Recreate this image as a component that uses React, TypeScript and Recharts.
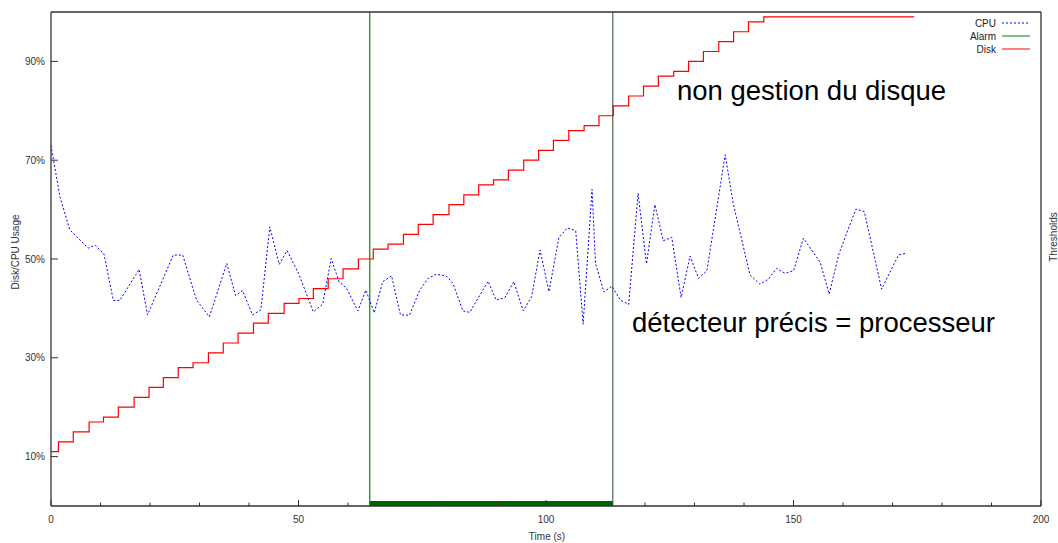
import { LineChart, Line, XAxis, YAxis, ReferenceLine, ReferenceArea } from 'recharts'

// Time (s) of every CPU sample and the CPU usage (%) read at it
const CPU_T = [
  0, 1.8, 3.8, 5.2, 7.5, 8.9, 10.7, 12.6, 13.9, 17.8, 19.5, 24.7, 26.6, 29.4, 32.0, 35.5,
  37.3, 38.7, 40.7, 42.4, 44.2, 46.1, 47.7, 50.0, 53.0, 54.9, 56.6, 58.2, 59.7, 62.0, 63.6,
  65.3, 67.0, 68.8, 70.6, 72.4, 74.5, 76.2, 77.8, 79.8, 81.2, 83.2, 84.6, 88.3, 89.9, 91.7,
  93.5, 95.4, 97.1, 98.8, 100.6, 102.6, 104.3, 106.0, 107.5, 109.3, 110.0, 111.7, 113.3,
  115.0, 116.7, 118.6, 120.3, 122.0, 123.7, 125.4, 127.3, 129.1, 130.8, 132.5, 136.2, 137.8,
  141.2, 143.2, 144.9, 146.6, 148.3, 150.0, 152.0, 155.4, 157.2, 159.2, 162.6, 164.3, 167.8,
  171.2, 172.9,
]
const CPU_USAGE = [
  73, 62.6, 55.9, 54.5, 52.2, 52.8, 51.0, 41.6, 41.6, 47.9, 38.7, 50.8, 50.8, 41.7, 38.3, 49.1,
  42.6, 43.6, 38.7, 39.7, 56.5, 48.9, 51.7, 47.1, 39.3, 40.9, 50.1, 45.4, 44.1, 39.5, 43.7,
  39.1, 45.4, 46.6, 38.7, 38.6, 43.7, 46.1, 46.9, 46.6, 45.1, 39.5, 39.2, 45.5, 41.7, 42.2,
  45.4, 39.5, 42.4, 51.8, 43.4, 54.3, 56.3, 55.7, 36.8, 64.1, 49.1, 43.3, 44.5,
  41.7, 40.8, 63.3, 49.0, 61.0, 53.7, 54.4, 42.2, 50.6, 46.1, 47.6, 71.1, 61.3,
  46.8, 44.9, 45.9, 48.1, 47.1, 47.6, 54.2, 49.3, 42.9, 51.1, 60.1, 59.6, 43.9,
  50.8, 51.2,
]

// Disk usage (%) steps: value holds from DISK_T[i] until the next step
const DISK_T = [
  0, 1.5, 4.5, 7.7, 10.6, 13.6, 16.8, 19.8, 22.7, 25.7, 28.7, 31.8, 34.8, 37.8, 40.9, 43.9,
  47.1, 50.1, 53.0, 56.0, 59.0, 62.1, 65.1, 68.1, 71.2, 74.2, 77.2, 80.4, 83.4, 86.4, 89.4,
  92.4, 95.5, 98.5, 101.5, 104.6, 107.7, 110.7, 113.6, 116.7, 119.7, 122.7, 125.8, 128.8,
  131.8, 134.9, 137.9, 140.9, 144.0, 174.4,
]
const DISK_USAGE = [
  11, 13, 15, 17, 18, 20, 22, 24, 26, 28, 29, 31, 33, 35, 37, 39,
  41, 42, 44, 46, 48, 50, 52, 53, 55, 57, 59, 61, 63, 65, 66,
  68, 70, 72, 74, 76, 77, 79, 81, 83, 85, 87, 88, 90,
  92, 94, 96, 98, 99, 99,
]

// alarm raised / cleared (s)
const ALARM = [64.4, 113.5]

const X_TICKS = [0, 10, 20, 30, 40, 50, 60, 70, 80, 90, 100, 110, 120, 130, 140, 150, 160, 170, 180, 190, 200]
const Y_TICKS = [10, 30, 50, 70, 90]
const THRESHOLD_TICK = 95

const cpuData = CPU_T.map((t, i) => ({ t, cpu: CPU_USAGE[i] }))
const diskData = DISK_T.map((t, i) => ({ t, disk: DISK_USAGE[i] }))

const FONT = '"Liberation Sans", Arial, sans-serif'
const AXIS = '#333'

function BottomTick(props: any) {
  const { x, y, payload } = props
  const major = payload.value % 50 === 0
  return (
    <g>
      <line x1={x} x2={x} y1={y} y2={y - (major ? 6 : 3.5)} stroke={AXIS} />
      {major && (
        <text x={x} y={y + 16.5} textAnchor="middle" fontSize={10} fontFamily={FONT} fill="#333">
          {payload.value}
        </text>
      )}
    </g>
  )
}

function TopTick(props: any) {
  const { x, y, payload } = props
  const major = payload.value % 50 === 0
  return <line x1={x} x2={x} y1={y} y2={y + (major ? 6 : 3.5)} stroke={AXIS} />
}

function LeftTick(props: any) {
  const { x, y, payload } = props
  return (
    <g>
      <line x1={x} x2={x + 7} y1={y} y2={y} stroke={AXIS} />
      <text x={x - 6} y={y + 3.5} textAnchor="end" fontSize={10} fontFamily={FONT} fill="#333">
        {payload.value}%
      </text>
    </g>
  )
}

function RightTick(props: any) {
  const { x, y, payload } = props
  if (payload.value === THRESHOLD_TICK) {
    return <line x1={x} x2={x + 5} y1={y} y2={y} stroke={AXIS} />
  }
  return <line x1={x} x2={x - 7} y1={y} y2={y} stroke={AXIS} />
}

export default function App() {
  return (
    <div style={{ position: 'absolute', left: 0, top: 0, width: 1058, height: 543, background: '#fff' }}>
      <LineChart width={1058} height={543} margin={{ top: 0, right: 0, bottom: 0, left: 0 }}>
        <XAxis
          xAxisId="b"
          dataKey="t"
          type="number"
          domain={[0, 200]}
          ticks={X_TICKS}
          height={37}
          tickLine={false}
          tickSize={0}
          tickMargin={0}
          tick={BottomTick}
          interval={0}
          axisLine={{ stroke: AXIS, strokeWidth: 1.3 }}
        />
        <XAxis
          xAxisId="top"
          orientation="top"
          type="number"
          domain={[0, 200]}
          ticks={X_TICKS}
          height={12}
          tickLine={false}
          tickSize={0}
          tickMargin={0}
          tick={TopTick}
          interval={0}
          axisLine={{ stroke: AXIS, strokeWidth: 1.3 }}
        />
        <YAxis
          yAxisId="l"
          type="number"
          domain={[0, 100]}
          ticks={Y_TICKS}
          width={51}
          tickLine={false}
          tickSize={0}
          tickMargin={0}
          tick={LeftTick}
          interval={0}
          axisLine={{ stroke: AXIS, strokeWidth: 1.3 }}
        />
        <YAxis
          yAxisId="r"
          orientation="right"
          type="number"
          domain={[0, 100]}
          ticks={[...Y_TICKS, THRESHOLD_TICK]}
          width={17}
          tickLine={false}
          tickSize={0}
          tickMargin={0}
          tick={RightTick}
          interval={0}
          axisLine={{ stroke: AXIS, strokeWidth: 1.3 }}
        />
        <ReferenceArea
          xAxisId="b"
          yAxisId="l"
          x1={ALARM[0]}
          x2={ALARM[1]}
          y1={0}
          y2={1}
          fill="#006400"
          fillOpacity={1}
          stroke="none"
        />
        <ReferenceLine xAxisId="b" yAxisId="l" x={ALARM[0]} stroke="#008a00" strokeWidth={1.2} />
        <ReferenceLine xAxisId="b" yAxisId="l" x={ALARM[1]} stroke="#2a4a2a" strokeWidth={1} />
        <Line
          xAxisId="b"
          yAxisId="l"
          data={diskData}
          dataKey="disk"
          type="stepAfter"
          stroke="#ff0000"
          strokeWidth={1.2}
          dot={false}
          isAnimationActive={false}
        />
        <Line
          xAxisId="b"
          yAxisId="l"
          data={cpuData}
          dataKey="cpu"
          type="linear"
          stroke="#0000ff"
          strokeWidth={1}
          strokeDasharray="2 2"
          dot={false}
          isAnimationActive={false}
        />
      </LineChart>
      <svg
        width={1058}
        height={543}
        style={{ position: 'absolute', left: 0, top: 0, pointerEvents: 'none' }}
        fontFamily={FONT}
      >
        <g fontSize={10} fill="#222" textAnchor="end">
          <text x={996} y={26.5}>CPU</text>
          <text x={996} y={39.5}>Alarm</text>
          <text x={996} y={52.5}>Disk</text>
        </g>
        <line x1={1002} x2={1030} y1={23} y2={23} stroke="#0000ff" strokeDasharray="2 2" />
        <line x1={1002} x2={1030} y1={36} y2={36} stroke="#008000" />
        <line x1={1002} x2={1030} y1={49} y2={49} stroke="#ff0000" />
        <text x={19} y={252} fontSize={10} fill="#333" textAnchor="middle" transform="rotate(-90 19 252)">
          Disk/CPU Usage
        </text>
        <text x={1057} y={237} fontSize={10} fill="#333" textAnchor="middle" transform="rotate(-90 1057 237)">
          Thresholds
        </text>
        <text x={547} y={539.5} fontSize={10} fill="#333" textAnchor="middle">
          Time (s)
        </text>
        <text x={677} y={100} fontSize={27.5} fill="#000">
          non gestion du disque
        </text>
        <text x={632} y={332} fontSize={27.5} fill="#000">
          détecteur précis = processeur
        </text>
      </svg>
    </div>
  )
}
